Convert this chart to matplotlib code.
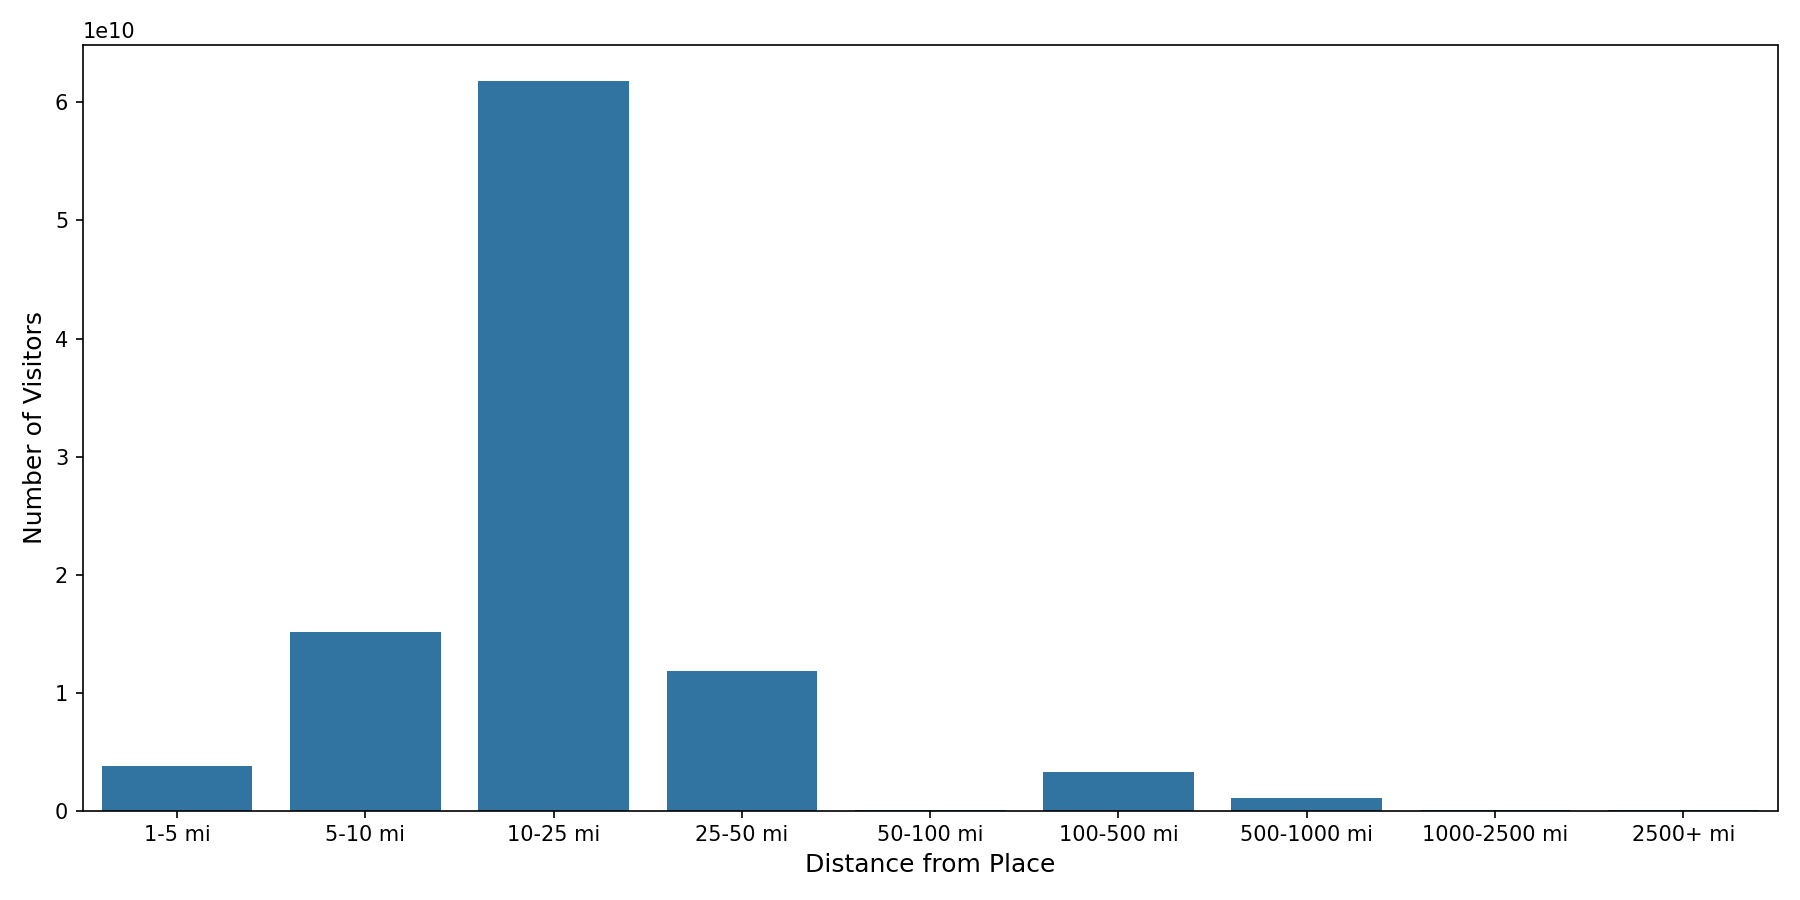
import matplotlib
matplotlib.use('Agg')
import matplotlib.pyplot as plt
import numpy as np

distances = ['1-5 mi', '5-10 mi', '10-25 mi', '25-50 mi', '50-100 mi',
             '100-500 mi', '500-1000 mi', '1000-2500 mi', '2500+ mi']
visitors = [3.75e9, 1.51e10, 6.18e10, 1.18e10, 4e7,
            3.3e9, 1.1e9, 2e7, 1e7]

fig, ax = plt.subplots(figsize=(12, 6), dpi=150)
x = np.arange(len(distances))
ax.bar(x, visitors, width=0.8, color='#3274a1')
ax.set_xticks(x)
ax.set_xticklabels(distances)
ax.set_xlim(-0.5, len(distances) - 0.5)
ax.set_xlabel('Distance from Place', fontsize=12)
ax.set_ylabel('Number of Visitors', fontsize=12)
plt.tight_layout()
plt.savefig('out.png')
